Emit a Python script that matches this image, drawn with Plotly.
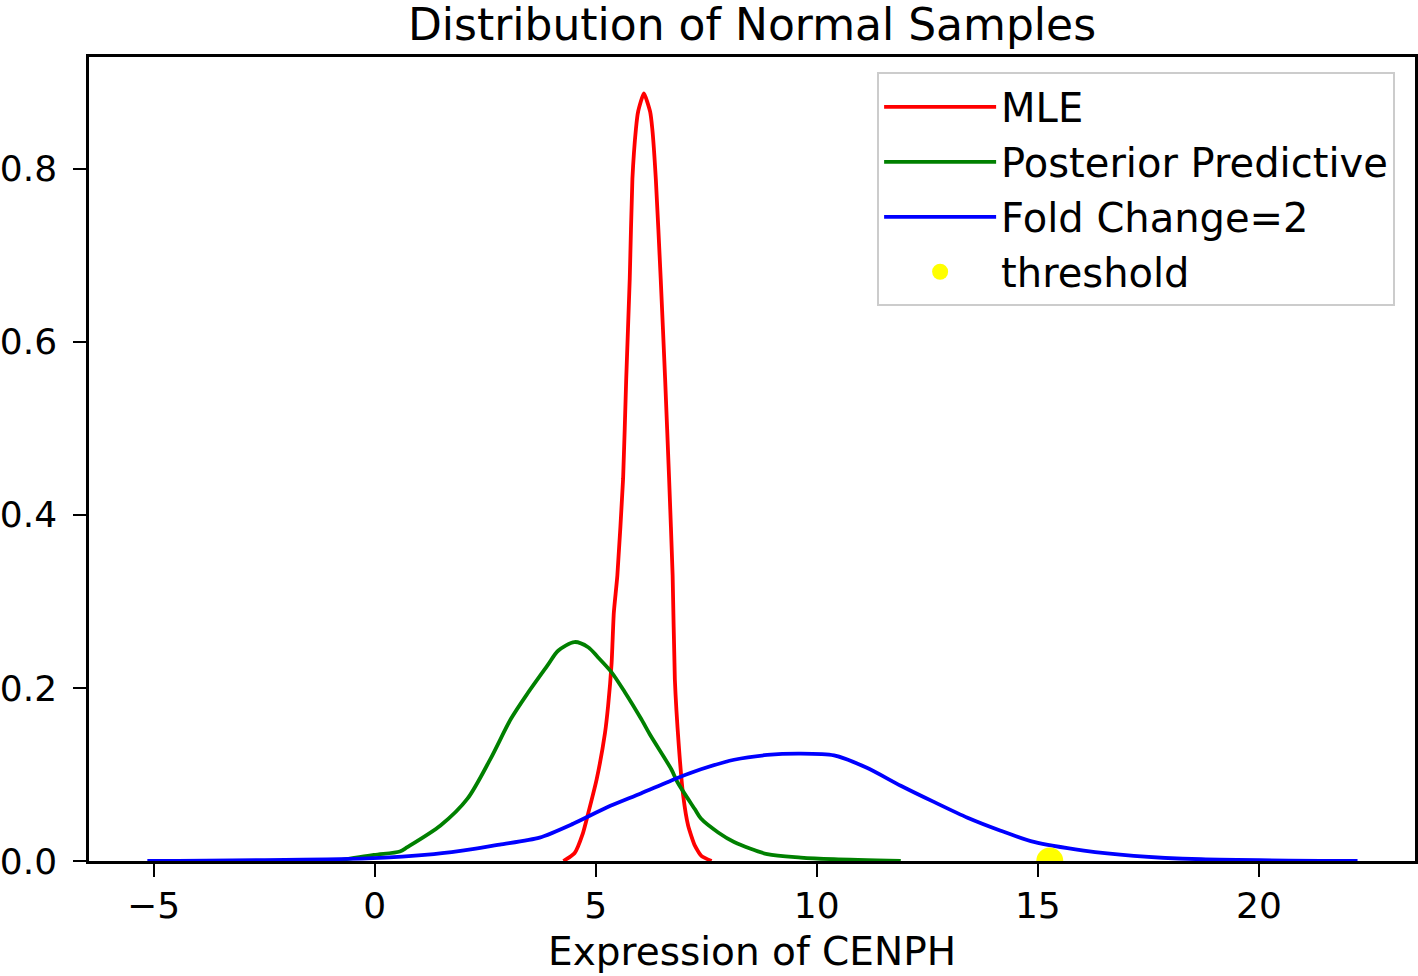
import plotly.graph_objects as go

# ---- data ----
mle_x = [4.27, 4.52, 4.71, 4.83, 5.02, 5.21, 5.28, 5.36, 5.41, 5.49, 5.62, 5.69, 5.77, 5.83,
         5.91, 5.96, 6.09, 6.23, 6.28, 6.36, 6.47, 6.57, 6.66, 6.74, 6.79, 6.88, 6.98, 7.09,
         7.24, 7.39, 7.62]
mle_y = [0.0, 0.009, 0.032, 0.055, 0.094, 0.148, 0.179, 0.229, 0.287, 0.33, 0.442, 0.557,
         0.673, 0.788, 0.846, 0.866, 0.887, 0.866, 0.846, 0.788, 0.673, 0.557, 0.442, 0.33,
         0.210, 0.133, 0.075, 0.041, 0.018, 0.006, 0.0]

post_x = [-0.9, -0.02, 0.57, 0.74, 1.49, 2.10, 2.62, 3.08, 3.45, 3.91, 4.15, 4.52, 4.83, 5.05,
          5.36, 5.66, 6.03, 6.24, 6.71, 6.85, 7.24, 7.38, 7.77, 8.13, 8.88, 9.64, 10.39, 11.9]
post_y = [0.0, 0.007, 0.011, 0.016, 0.041, 0.072, 0.118, 0.164, 0.193, 0.226, 0.243, 0.253,
          0.247, 0.2355, 0.218, 0.195, 0.164, 0.145, 0.106, 0.091, 0.060, 0.049, 0.033, 0.022,
          0.008, 0.004, 0.002, 0.0]

fc_x = [-5.14, -0.17, 1.34, 2.25, 2.83, 3.73, 4.49, 5.26, 6.02, 6.85, 7.38, 8.13, 8.88, 9.64,
        10.39, 11.12, 11.9, 12.66, 13.41, 14.16, 14.91, 16.04, 17.17, 18.69, 22.23]
fc_y = [0.0, 0.003, 0.008, 0.014, 0.019, 0.027, 0.043, 0.062, 0.078, 0.096, 0.106, 0.117,
        0.1225, 0.124, 0.122, 0.108, 0.087, 0.068, 0.050, 0.035, 0.022, 0.012, 0.006, 0.002,
        0.0]

thr_x = [15.27]
thr_y = [0.0]

x_ticks = [-5, 0, 5, 10, 15, 20]
x_labels = ["\u22125", "0", "5", "10", "15", "20"]
y_ticks = [0.0, 0.2, 0.4, 0.6, 0.8]
y_labels = ["0.0", "0.2", "0.4", "0.6", "0.8"]

FONT = "DejaVu Sans"
TICK_FS = 36
LABEL_FS = 39
LEGEND_FS = 40
TITLE_FS = 44
LW = 3.8

fig = go.Figure()
fig.add_trace(go.Scatter(x=mle_x, y=mle_y, mode="lines", name="MLE", legendgroup="a",
                         line=dict(color="#ff0000", width=LW, shape="spline", smoothing=0.5)))
fig.add_trace(go.Scatter(x=post_x, y=post_y, mode="lines", name="Posterior Predictive",
                         legendgroup="b",
                         line=dict(color="#008000", width=LW, shape="spline", smoothing=0.8)))
fig.add_trace(go.Scatter(x=fc_x, y=fc_y, mode="lines", name="Fold Change=2", legendgroup="c",
                         line=dict(color="#0000ff", width=LW, shape="spline", smoothing=0.7)))
fig.add_trace(go.Scatter(x=thr_x, y=thr_y, mode="markers", name="threshold", legendgroup="d",
                         marker=dict(color="#ffff00", size=27), cliponaxis=True))

axis_common = dict(showline=True, linecolor="black", linewidth=2.5, mirror=True,
                   ticks="outside", ticklen=13, tickwidth=2, tickcolor="black",
                   showgrid=False, zeroline=False, automargin=False,
                   tickfont=dict(family=FONT, size=TICK_FS, color="black"))

fig.update_layout(
    width=1418, height=976,
    paper_bgcolor="white", plot_bgcolor="white",
    margin=dict(l=89, r=3, t=57, b=115),
    font=dict(family=FONT, size=LABEL_FS, color="black"),
    title=dict(text="Distribution of Normal Samples", x=0.5, xref="paper",
               y=1.0, yref="paper", yanchor="bottom", pad=dict(b=17), automargin=False,
               font=dict(family=FONT, size=TITLE_FS, color="black")),
    xaxis=dict(range=[-6.46, 23.53], tickvals=x_ticks, ticktext=x_labels,
               ticklabelstandoff=-2,
               **axis_common),
    yaxis=dict(range=[0, 0.929], tickvals=y_ticks, ticktext=y_labels,
               ticklabelstandoff=9,
               **axis_common),
    legend=dict(x=0.985, y=0.981, xanchor="right", yanchor="top",
                bgcolor="rgba(255,255,255,0.8)", bordercolor="#cccccc", borderwidth=2,
                font=dict(family=FONT, size=LEGEND_FS, color="black"),
                traceorder="grouped", tracegroupgap=0, itemwidth=112),
    annotations=[dict(text="Expression of CENPH", xref="paper", yref="paper",
                      x=0.5, y=-0.143, xanchor="center", yanchor="bottom",
                      showarrow=False,
                      font=dict(family=FONT, size=LABEL_FS, color="black"))],
    showlegend=True,
)

fig.write_html("out.html", config={"displayModeBar": False},
               post_script="document.body.style.margin='0';document.body.style.overflow='hidden';")
